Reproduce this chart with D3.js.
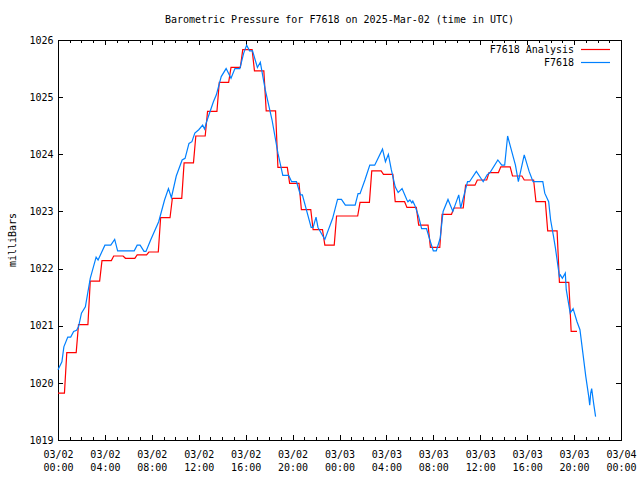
<!DOCTYPE html>
<html><head><meta charset="utf-8">
<script src="https://cdn.jsdelivr.net/npm/d3@7"></script>
<style>
body{margin:0;background:#fff}
svg text{font-family:"DejaVu Sans Mono","Liberation Mono",monospace;font-size:10px;fill:#000}
</style>
</head><body><svg id="c" width="640" height="480"></svg>
<script>
const chartTitle = "Barometric Pressure for F7618 on 2025-Mar-02 (time in UTC)";
const yLabel = "milliBars";
const seriesNames = ["F7618 Analysis", "F7618"];
const seriesColors = ["#ff0000", "#0080ff"];
const startTime = Date.UTC(2025, 2, 2, 0, 0);
const endTime = Date.UTC(2025, 2, 4, 0, 0);
const yDomain = [1019, 1026];
const yTicks = [1019, 1020, 1021, 1022, 1023, 1024, 1025, 1026];

// Analysis: one value per hour (hours 0..44 after 03/02 00:00 UTC)
const redHourly = [
  1019.82, 1020.53, 1021.02, 1021.78, 1022.14, 1022.22, 1022.18, 1022.24, 1022.29, 1022.89,
  1023.23, 1023.85, 1024.32, 1024.75, 1025.26, 1025.52, 1025.83, 1025.46, 1024.76, 1023.77,
  1023.49, 1023.03, 1022.68, 1022.41, 1022.92, 1022.92, 1023.16, 1023.71, 1023.65, 1023.17,
  1023.07, 1022.76, 1022.37, 1022.95, 1023.06, 1023.46, 1023.55, 1023.68, 1023.78, 1023.62,
  1023.55, 1023.17, 1022.66, 1021.76, 1020.90
];
const redEndHour = 44.25;

// Observations: [minutes after 03/02 00:00 UTC, mb]
const blueObs = [
  [0,1020.23],[20,1020.37],[30,1020.63],[50,1020.80],[65,1020.80],[80,1020.90],[95,1020.92],[105,1020.98],
  [120,1021.22],[140,1021.33],[165,1021.83],[195,1022.20],[205,1022.15],[240,1022.41],[270,1022.41],
  [290,1022.51],[305,1022.31],[390,1022.31],[405,1022.41],[420,1022.41],[440,1022.30],[450,1022.30],
  [475,1022.51],[515,1022.82],[545,1023.20],[565,1023.40],[580,1023.24],[605,1023.62],[635,1023.90],
  [650,1023.93],[670,1024.19],[685,1024.22],[700,1024.37],[720,1024.43],[740,1024.51],[750,1024.44],
  [760,1024.57],[795,1024.92],[810,1025.04],[835,1025.36],[860,1025.50],[885,1025.33],[905,1025.50],
  [930,1025.50],[950,1025.77],[965,1025.91],[980,1025.81],[995,1025.81],[1020,1025.52],[1035,1025.61],
  [1060,1025.13],[1095,1024.60],[1125,1024.02],[1150,1023.63],[1180,1023.63],[1195,1023.52],[1220,1023.52],
  [1240,1023.29],[1250,1023.29],[1295,1022.72],[1305,1022.72],[1320,1022.90],[1330,1022.72],[1365,1022.51],
  [1405,1022.88],[1430,1023.21],[1450,1023.21],[1470,1023.11],[1520,1023.11],[1535,1023.31],[1545,1023.31],
  [1570,1023.55],[1595,1023.81],[1620,1023.81],[1660,1024.09],[1675,1023.87],[1690,1024.00],[1705,1023.73],
  [1725,1023.43],[1740,1023.33],[1760,1023.40],[1785,1023.20],[1790,1023.17],[1800,1023.20],[1810,1023.15],
  [1815,1023.18],[1825,1023.11],[1845,1022.91],[1860,1022.70],[1885,1022.70],[1905,1022.47],[1920,1022.31],
  [1935,1022.31],[1955,1022.53],[1970,1023.00],[1995,1023.21],[2020,1023.00],[2050,1023.29],[2060,1023.06],
  [2095,1023.52],[2105,1023.52],[2140,1023.70],[2175,1023.52],[2195,1023.64],[2210,1023.68],[2250,1023.90],
  [2270,1023.81],[2285,1023.81],[2300,1024.32],[2310,1024.19],[2340,1023.81],[2355,1023.52],[2385,1023.99],
  [2410,1023.70],[2430,1023.52],[2480,1023.52],[2490,1023.32],[2510,1023.17],[2520,1022.85],[2535,1022.56],
  [2545,1022.35],[2560,1021.98],[2565,1021.86],[2570,1021.89],[2580,1021.83],[2595,1021.92],[2600,1021.63],
  [2620,1021.22],[2635,1021.30],[2655,1021.07],[2670,1020.93],[2685,1020.52],[2700,1020.11],[2715,1019.76],
  [2720,1019.61],[2725,1019.82],[2730,1019.90],[2740,1019.64],[2750,1019.41]
];

const M = {left: 58, right: 621, top: 40, bottom: 440};
const svg = d3.select("#c");
const HOUR = 3600 * 1000;

const x = d3.scaleUtc().domain([new Date(startTime), new Date(endTime)]).range([M.left, M.right]);
const y = d3.scaleLinear().domain(yDomain).range([M.bottom, M.top]);

// red analysis path: hourly values held, switching ~35 min past the hour
const redPts = [];
redHourly.forEach((v, i) => {
  const s = i === 0 ? 0 : i - 0.25;
  const e = i === redHourly.length - 1 ? redEndHour : i + 0.55;
  redPts.push([new Date(startTime + s * HOUR), v]);
  redPts.push([new Date(startTime + e * HOUR), v]);
});
const bluePts = blueObs.map(d => [new Date(startTime + d[0] * 60000), d[1]]);

const line = d3.line().x(d => x(d[0])).y(d => y(d[1]));

// axes
const majorT = x.ticks(d3.utcHour.every(4));
const minorT = x.ticks(d3.utcHour.every(1));
const fmtD = d3.utcFormat("%m/%d"), fmtH = d3.utcFormat("%H:%M");

const gB = svg.append("g").attr("transform", `translate(0,${M.bottom})`)
  .call(d3.axisBottom(x).tickValues(minorT).tickSizeInner(-3).tickSizeOuter(0).tickFormat(""));
gB.select(".domain").remove();
const gB2 = svg.append("g").attr("transform", `translate(0,${M.bottom})`)
  .call(d3.axisBottom(x).tickValues(majorT).tickSizeInner(-5).tickSizeOuter(0).tickFormat(d => ""));
gB2.select(".domain").remove();
gB2.selectAll(".tick text").each(function(d) {
  const t = d3.select(this).attr("y", null).attr("dy", null);
  t.append("tspan").attr("x", 0).attr("y", 17.5).text(fmtD(d));
  t.append("tspan").attr("x", 0).attr("y", 31).text(fmtH(d));
});

const gT = svg.append("g").attr("transform", `translate(0,${M.top})`)
  .call(d3.axisTop(x).tickValues(minorT).tickSizeInner(-3).tickSizeOuter(0).tickFormat(""));
gT.select(".domain").remove();
const gT2 = svg.append("g").attr("transform", `translate(0,${M.top})`)
  .call(d3.axisTop(x).tickValues(majorT).tickSizeInner(-5).tickSizeOuter(0).tickFormat(""));
gT2.select(".domain").remove();

const gL = svg.append("g").attr("transform", `translate(${M.left},0)`)
  .call(d3.axisLeft(y).tickValues(yTicks).tickSizeInner(-5).tickSizeOuter(0).tickPadding(4.5).tickFormat(d3.format("d")));
gL.select(".domain").remove();
const gR = svg.append("g").attr("transform", `translate(${M.right},0)`)
  .call(d3.axisRight(y).tickValues(yTicks).tickSizeInner(-5).tickSizeOuter(0).tickFormat(""));
gR.select(".domain").remove();

svg.selectAll(".tick line").attr("stroke", "#000").attr("shape-rendering", "crispEdges");
svg.selectAll(".tick text").attr("fill", "#000").style("font-family", '"DejaVu Sans Mono",monospace').style("font-size", "10px");

svg.append("rect").attr("x", M.left + 0.5).attr("y", M.top + 0.5)
  .attr("width", M.right - M.left).attr("height", M.bottom - M.top)
  .attr("fill", "none").attr("stroke", "#000").attr("stroke-width", 1).attr("shape-rendering", "crispEdges");

// series
svg.append("path").datum(redPts).attr("d", line).attr("fill", "none")
  .attr("stroke", seriesColors[0]).attr("stroke-width", 1.2);
svg.append("path").datum(bluePts).attr("d", line).attr("fill", "none")
  .attr("stroke", seriesColors[1]).attr("stroke-width", 1.2);

// title & labels
svg.append("text").attr("x", (M.left + M.right) / 2).attr("y", 23)
  .attr("text-anchor", "middle").text(chartTitle);
svg.append("text").attr("transform", `translate(12,${(M.top + M.bottom) / 2}) rotate(-90)`)
  .attr("text-anchor", "middle").attr("dominant-baseline", "central").text(yLabel);

// legend
seriesNames.forEach((n, i) => {
  const ly = 49.5 + i * 13;
  svg.append("text").attr("x", 574).attr("y", ly + 3.6).attr("text-anchor", "end").text(n);
  svg.append("line").attr("x1", 581).attr("x2", 610).attr("y1", ly).attr("y2", ly)
    .attr("stroke", seriesColors[i]).attr("stroke-width", 1.2);
});
</script></body></html>
